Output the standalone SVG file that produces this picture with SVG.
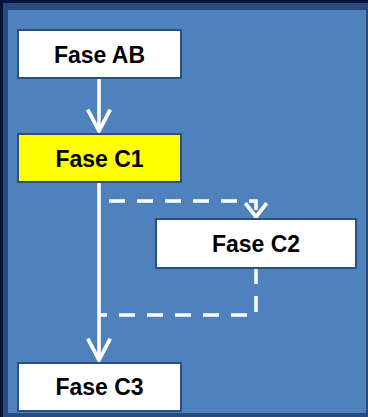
<svg xmlns="http://www.w3.org/2000/svg" width="368" height="417" viewBox="0 0 368 417">
  <defs>
    <style>
      .box { stroke: #2B4F7E; stroke-width: 2; }
      .label { font-family: "Liberation Sans", Arial, sans-serif; font-weight: bold; font-size: 23px; fill: #000000; text-anchor: middle; }
      .flow { fill: none; stroke: #FFFFFF; stroke-width: 3.5; }
      .dash { fill: none; stroke: #FFFFFF; stroke-width: 3.5; stroke-dasharray: 16 12; }
    </style>
    <marker id="openArrow" markerUnits="userSpaceOnUse" orient="auto" markerWidth="30" markerHeight="30" refX="0" refY="0" viewBox="-24 -14 28 28" overflow="visible">
      <path d="M-20,-10.5 L0,0 L-20,10.5" fill="none" stroke="#FFFFFF" stroke-width="3.5"/>
    </marker>
    <marker id="openArrowSmall" markerUnits="userSpaceOnUse" orient="auto" markerWidth="30" markerHeight="30" refX="0" refY="0" viewBox="-20 -14 24 28" overflow="visible">
      <path d="M-13,-10 L0,0 L-13,10" fill="none" stroke="#FFFFFF" stroke-width="3.5"/>
    </marker>
  </defs>

  <!-- backdrop and panel -->
  <rect x="0" y="0" width="368" height="417" fill="#03143A"/>
  <rect x="3" y="3" width="365" height="414" fill="#284A7C"/>
  <rect x="8" y="10" width="358" height="403" fill="#4F81BD"/>

  <!-- connectors -->
  <g id="connectors">
    <path class="flow" d="M99,78 V131" marker-end="url(#openArrow)"/>
    <path class="flow" d="M99,182 V360" marker-end="url(#openArrow)"/>
    <path class="dash" d="M109,201 H256 V217" marker-end="url(#openArrowSmall)"/>
    <path class="dash" d="M256,268 V315 H99"/>
  </g>

  <!-- nodes -->
  <g id="fase-ab">
    <rect class="box" x="18" y="30" width="163" height="48" fill="#FFFFFF"/>
    <text class="label" x="99.5" y="63">Fase AB</text>
  </g>
  <g id="fase-c1">
    <rect class="box" x="18" y="134" width="163" height="48" fill="#FFFF00"/>
    <text class="label" x="99.5" y="166.5">Fase C1</text>
  </g>
  <g id="fase-c2">
    <rect class="box" x="156" y="219" width="200" height="49" fill="#FFFFFF"/>
    <text class="label" x="256" y="252">Fase C2</text>
  </g>
  <g id="fase-c3">
    <rect class="box" x="18" y="363" width="163" height="48" fill="#FFFFFF"/>
    <text class="label" x="99.5" y="395">Fase C3</text>
  </g>
</svg>
